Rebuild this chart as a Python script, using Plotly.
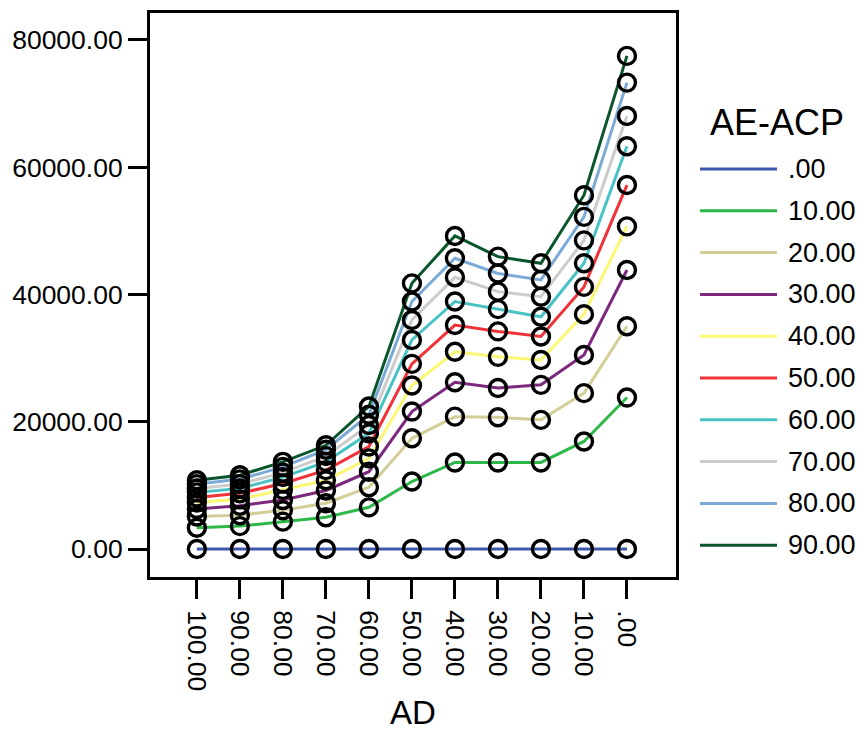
import plotly.graph_objects as go

ad = ["100.00", "90.00", "80.00", "70.00", "60.00", "50.00", "40.00", "30.00", "20.00", "10.00", ".00"]
series_names = [".00", "10.00", "20.00", "30.00", "40.00", "50.00", "60.00", "70.00", "80.00", "90.00"]

s00 = [0, 0, 0, 0, 0, 0, 0, 0, 0, 0, 0]
s10 = [3350, 3600, 4300, 5000, 6550, 10600, 13600, 13600, 13600, 16900, 23800]
s20 = [5100, 5300, 6100, 7200, 9700, 17400, 20800, 20700, 20300, 24500, 35000]
s30 = [6300, 6800, 7700, 9200, 12150, 21600, 26200, 25300, 25800, 30500, 43850]
s40 = [7300, 7800, 9300, 10800, 14250, 25700, 31000, 30200, 29700, 36900, 50700]
s50 = [8100, 8750, 10300, 12400, 16100, 29100, 35200, 34200, 33400, 41200, 57200]
s60 = [8900, 9500, 11300, 13700, 18200, 32850, 38900, 37700, 36500, 44900, 63300]
s70 = [9500, 10200, 12000, 14600, 19500, 36000, 42700, 40450, 39650, 48500, 68050]
s80 = [10200, 10950, 12900, 15600, 21100, 38900, 45700, 43300, 42300, 52200, 73300]
s90 = [10800, 11600, 13700, 16300, 22400, 41750, 49200, 45950, 44900, 55600, 77500]

all_series = [s00, s10, s20, s30, s40, s50, s60, s70, s80, s90]
colors = ["#3E58AC", "#2EB848", "#D3CE97", "#7C287D", "#FBF873",
          "#EF3338", "#48C2C5", "#CCCCCC", "#7AAAD5", "#0A562C"]

yticks = [0, 20000, 40000, 60000, 80000]

FONT = "Liberation Sans, Arial, sans-serif"

fig = go.Figure()
for name, vals, col in zip(series_names, all_series, colors):
    fig.add_trace(go.Scatter(x=ad, y=vals, mode="lines", name=name,
                             line=dict(color=col, width=3), showlegend=False))
for name, vals in zip(series_names, all_series):
    fig.add_trace(go.Scatter(x=ad, y=vals, mode="markers", name=name,
                             marker=dict(symbol="circle-open", size=17, color="black",
                                         line=dict(width=3.4, color="black")),
                             showlegend=False))

# custom legend (paper coords); plot area is x 150..676 px, y 13..577 px
L, R, T, B = 150, 676, 13, 577
W, H = R - L, B - T
def px(x):
    return (x - L) / W
def py(y):
    return (B - y) / H

shapes = []
annotations = []
annotations.append(dict(x=px(777), y=py(122), xref="paper", yref="paper", text="AE-ACP",
                        showarrow=False, font=dict(size=36, color="black", family=FONT),
                        xanchor="center", yanchor="middle"))
for i, (name, col) in enumerate(zip(series_names, colors)):
    yc = 169 + i * 41.8
    shapes.append(dict(type="line", xref="paper", yref="paper", x0=px(700), x1=px(777),
                       y0=py(yc), y1=py(yc), line=dict(color=col, width=3)))
    annotations.append(dict(x=px(786), y=py(yc), xref="paper", yref="paper", text=name,
                            showarrow=False, font=dict(size=27, color="black", family=FONT),
                            xanchor="left", yanchor="middle"))

fig.update_layout(
    width=859, height=731,
    margin=dict(l=L, r=859 - R, t=T, b=731 - B),
    paper_bgcolor="white", plot_bgcolor="white",
    font=dict(family=FONT, size=26, color="black"),
    shapes=shapes, annotations=annotations,
    showlegend=False,
)
fig.update_xaxes(type="category", range=[-1.09, 11.14], showgrid=False, zeroline=False,
                 showline=True, linecolor="black", linewidth=3, mirror=True, automargin=False,
                 ticks="outside", ticklen=19, tickwidth=3, tickcolor="black",
                 tickangle=90, tickfont=dict(size=26.5), ticklabelstandoff=6,
                 title=dict(text="AD", font=dict(size=33), standoff=12))
fig.update_yaxes(range=[-4400, 84240], showgrid=False, zeroline=False,
                 showline=True, linecolor="black", linewidth=3, mirror=True, automargin=False,
                 ticks="outside", ticklen=19, tickwidth=3, tickcolor="black",
                 tickvals=yticks, tickformat=".2f", tickfont=dict(size=26.5))

fig.write_html("out.html")
